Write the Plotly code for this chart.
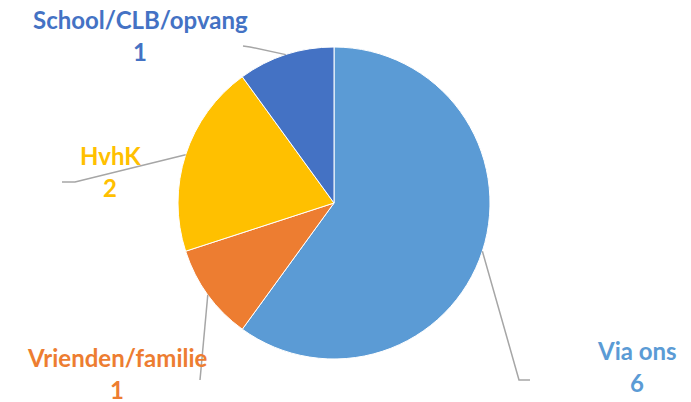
import math
import plotly.graph_objects as go

# ---- data ----
categories = ["Via ons", "Vrienden/familie", "HvhK", "School/CLB/opvang"]
values = [6, 1, 2, 1]
colors = ["#5B9BD5", "#ED7D31", "#FFC000", "#4472C4"]

# ---- layout (pixels in the 691x402 screenshot) ----
W, H = 691, 402
OFF = 8  # page body margin
CX, CY, R = 334, 203, 156
label_pos = {
    "Via ons": (637, 350),
    "Vrienden/familie": (117, 357),
    "HvhK": (110, 155),
    "School/CLB/opvang": (140, 20),
}
leader = {
    "Via ons": [(530, 380), (519, 380)],
    "Vrienden/familie": [(200, 380)],
    "HvhK": [(62, 182), (75, 182)],
    "School/CLB/opvang": [(243, 46), (250, 47)],
}
VALUE_DY = 32
FONT = "Lato"
FS = 24


def px(x):
    return (x - OFF) / W


def py(y):
    return 1 - (y - OFF) / H


fig = go.Figure(
    go.Pie(
        labels=categories,
        values=values,
        marker=dict(colors=colors, line=dict(color="white", width=1)),
        sort=False,
        direction="clockwise",
        rotation=0,
        textinfo="none",
        hoverinfo="label+value",
        showlegend=False,
        domain=dict(x=[px(CX - R), px(CX + R)], y=[py(CY + R), py(CY - R)]),
    )
)

total = sum(values)
cum = 0
shapes = []
annotations = []
for cat, val, col in zip(categories, values, colors):
    mid = (cum + val / 2) / total * 2 * math.pi
    cum += val
    ex = CX + R * math.sin(mid)
    ey = CY - R * math.cos(mid)
    pts = leader[cat] + [(ex, ey)]
    path = "M " + " L ".join(f"{px(x):.5f},{py(y):.5f}" for x, y in pts)
    shapes.append(dict(type="path", xref="paper", yref="paper", path=path,
                       line=dict(color="#A6A6A6", width=1.5)))
    lx, ly = label_pos[cat]
    annotations.append(dict(x=px(lx), y=py(ly), xref="paper", yref="paper",
                            text=f"<b>{cat}</b>", showarrow=False,
                            xanchor="center", yanchor="middle",
                            font=dict(family=FONT, size=FS, color=col)))
    annotations.append(dict(x=px(lx), y=py(ly + VALUE_DY), xref="paper", yref="paper",
                            text=f"<b>{val}</b>", showarrow=False,
                            xanchor="center", yanchor="middle",
                            font=dict(family=FONT, size=FS, color=col)))

fig.update_layout(
    width=W, height=H,
    margin=dict(l=0, r=0, t=0, b=0),
    paper_bgcolor="white",
    plot_bgcolor="white",
    shapes=shapes,
    annotations=annotations,
)

fig.write_html("out.html")
